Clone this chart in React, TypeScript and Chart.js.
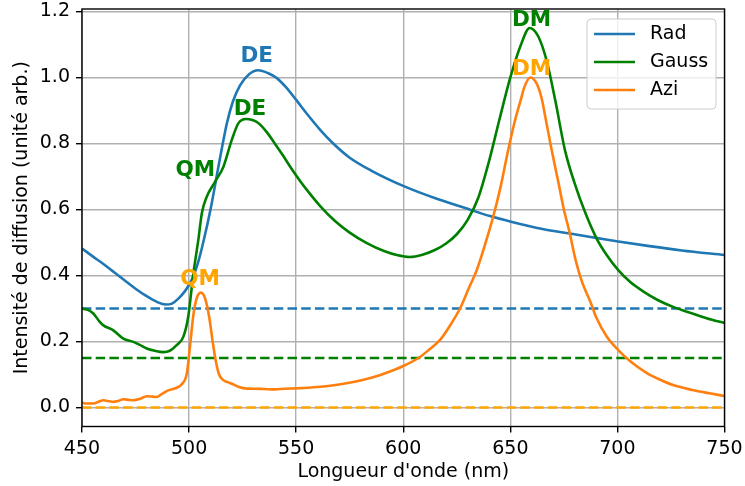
import React, { useEffect, useRef } from "react";
import { Chart, registerables } from "chart.js";

Chart.register(...registerables);

const FONT = '"DejaVu Sans", sans-serif';

// Wavelength (nm) / intensity samples
const radWl = [450,455,460,465,470,475,480,485,489,492,495,498,500,502,504,506.6,510,514,517.6,520.5,523.8,528,532.3,537,541,545,550,555,561,567.3,575,585,600.5,615,631,640.5,650.3,665,677.8,690,700.4,715,730,750];
const radVal = [0.482,0.458,0.435,0.41,0.385,0.36,0.338,0.32,0.312,0.315,0.33,0.352,0.372,0.398,0.435,0.50,0.60,0.74,0.86,0.928,0.976,1.01,1.022,1.013,0.998,0.972,0.932,0.89,0.843,0.80,0.757,0.718,0.67,0.634,0.6,0.58,0.563,0.541,0.527,0.514,0.503,0.489,0.476,0.462];

const gaussWl = [450,453,455.3,458,460,464.6,469.3,474,477,480.2,484,488,491,494.2,497.3,499.6,502,504.3,506,508.2,512.1,516,519.9,523,526.6,532.3,536.2,540,544,548,552,556,561,568,575,583,591,597,603,609,615,620,625,630,635,640,645,650,655,659,663,667,671,675.5,680,685,690.3,695,700.4,706,712,719,726,735,742,750];
const gaussVal = [0.30,0.295,0.285,0.262,0.249,0.234,0.209,0.199,0.19,0.179,0.172,0.168,0.172,0.189,0.214,0.275,0.406,0.507,0.59,0.638,0.684,0.729,0.81,0.861,0.874,0.862,0.835,0.80,0.762,0.722,0.685,0.651,0.612,0.566,0.53,0.498,0.474,0.462,0.456,0.463,0.478,0.497,0.525,0.568,0.635,0.745,0.875,1.0,1.10,1.15,1.125,1.05,0.93,0.78,0.68,0.59,0.512,0.462,0.416,0.38,0.352,0.325,0.305,0.285,0.27,0.256];

const aziWl = [450,452,455.3,458,460,462,464.6,467,469.3,472,474,477,480.2,483,484.9,487,490.3,494.2,496.5,499,500.5,502,503.5,505.5,507.5,509.5,511,512.5,514,516,518,520,523,526,530,535,540,545,550,560,570,580,589,595,600.8,607.8,612,617.1,622,626.5,630.5,634.3,638,642,645.5,649,652,655,656.5,659.3,662,664.5,666.5,669.3,672.5,675,677.8,680,683,688,690,695,700.4,706,713.6,720,726,735,743,750];
const aziVal = [0.015,0.012,0.012,0.018,0.022,0.02,0.017,0.02,0.025,0.023,0.022,0.026,0.034,0.033,0.032,0.04,0.052,0.06,0.07,0.105,0.19,0.28,0.33,0.348,0.33,0.27,0.2,0.14,0.1,0.083,0.077,0.072,0.063,0.058,0.057,0.056,0.055,0.057,0.058,0.062,0.07,0.082,0.098,0.112,0.128,0.153,0.175,0.204,0.25,0.30,0.36,0.416,0.49,0.578,0.67,0.78,0.865,0.935,0.97,1.0,0.985,0.94,0.875,0.78,0.68,0.6,0.527,0.46,0.39,0.31,0.275,0.215,0.174,0.14,0.105,0.084,0.068,0.053,0.043,0.035];

const seriesNames = ["Rad", "Gauss", "Azi"];
const seriesColors = ["#1f77b4", "#008000", "#ff7f0e"];
const thresholdValues = [0.3, 0.15, 0.0];
const thresholdColors = ["#1f77b4", "#008000", "#ffa500"];

const xTicks = [450, 500, 550, 600, 650, 700, 750];
const yTicks = [0.0, 0.2, 0.4, 0.6, 0.8, 1.0, 1.2];
const xRange = [450, 750];
const yRange = [-0.0575, 1.2075];

const peakLabels = ["QM", "DE", "DE", "QM", "DM", "DM"];
const peakLabelWl = [502.9, 531.6, 528.4, 505.1, 659.9, 659.9];
const peakLabelVal = [0.724, 1.071, 0.911, 0.394, 1.179, 1.032];
const peakLabelColors = ["#008000", "#1f77b4", "#008000", "#ffa500", "#008000", "#ffa500"];

const xTitle = "Longueur d'onde (nm)";
const yTitle = "Intensité de diffusion (unité arb.)";

const TXT = 19;

function toPoints(xs: number[], ys: number[]) {
  return xs.map((x, i) => ({ x, y: ys[i] }));
}

const overlayPlugin = {
  id: "overlay",
  afterDatasetsDraw(chart: any) {
    const { ctx, chartArea, scales } = chart;
    const xs = scales.x;
    const ys = scales.y;
    ctx.save();
    ctx.strokeStyle = "#000";
    ctx.lineWidth = 1.4;
    ctx.strokeRect(chartArea.left, chartArea.top, chartArea.right - chartArea.left, chartArea.bottom - chartArea.top);

    const fs = 21.5;
    ctx.font = `bold ${fs}px ${FONT}`;
    ctx.textAlign = "center";
    ctx.textBaseline = "alphabetic";
    peakLabels.forEach((t, i) => {
      const px = xs.getPixelForValue(peakLabelWl[i]);
      const py = ys.getPixelForValue(peakLabelVal[i]);
      ctx.fillStyle = peakLabelColors[i];
      ctx.fillText(t, px, py + 0.3645 * fs);
    });

    const lx = chartArea.right - 137.5;
    const ly = chartArea.top + 10;
    const lw = 129;
    const lh = 90;
    const r = 4;
    ctx.beginPath();
    ctx.moveTo(lx + r, ly);
    ctx.lineTo(lx + lw - r, ly);
    ctx.quadraticCurveTo(lx + lw, ly, lx + lw, ly + r);
    ctx.lineTo(lx + lw, ly + lh - r);
    ctx.quadraticCurveTo(lx + lw, ly + lh, lx + lw - r, ly + lh);
    ctx.lineTo(lx + r, ly + lh);
    ctx.quadraticCurveTo(lx, ly + lh, lx, ly + lh - r);
    ctx.lineTo(lx, ly + r);
    ctx.quadraticCurveTo(lx, ly, lx + r, ly);
    ctx.closePath();
    ctx.fillStyle = "rgba(255,255,255,0.8)";
    ctx.fill();
    ctx.strokeStyle = "#cccccc";
    ctx.lineWidth = 1;
    ctx.stroke();

    ctx.font = `${TXT}px ${FONT}`;
    ctx.textAlign = "left";
    ctx.textBaseline = "middle";
    seriesNames.forEach((name, i) => {
      const yy = ly + 15 + i * 28;
      ctx.strokeStyle = seriesColors[i];
      ctx.lineWidth = 2.6;
      ctx.beginPath();
      ctx.moveTo(lx + 7, yy);
      ctx.lineTo(lx + 48, yy);
      ctx.stroke();
      ctx.fillStyle = "#000";
      ctx.fillText(name, lx + 63, yy);
    });
    ctx.restore();
  },
};

export default function App() {
  const canvasRef = useRef<HTMLCanvasElement | null>(null);

  useEffect(() => {
    document.body.style.margin = "0";
    const canvas = canvasRef.current;
    if (!canvas) return;

    const mainSeries = [
      toPoints(radWl, radVal),
      toPoints(gaussWl, gaussVal),
      toPoints(aziWl, aziVal),
    ];

    const datasets: any[] = [];
    seriesNames.forEach((name, i) => {
      datasets.push({
        label: name,
        data: mainSeries[i],
        borderColor: seriesColors[i],
        backgroundColor: seriesColors[i],
        borderWidth: 2.6,
        pointRadius: 0,
        cubicInterpolationMode: "monotone",
        fill: false,
        clip: 0,
        order: 2 - i,
      });
    });
    thresholdValues.forEach((v, i) => {
      datasets.push({
        label: seriesNames[i] + " seuil",
        data: [
          { x: xRange[0], y: v },
          { x: xRange[1], y: v },
        ],
        borderColor: thresholdColors[i],
        borderWidth: 2.6,
        borderDash: [9.5, 4.2],
        pointRadius: 0,
        fill: false,
        clip: 0,
        order: 5 - i,
      });
    });

    const chart = new Chart(canvas, {
      type: "line",
      data: { datasets },
      options: {
        animation: false,
        responsive: false,
        devicePixelRatio: 1,
        layout: { padding: { top: 9, right: 20.5, left: 0, bottom: 0 } },
        plugins: {
          legend: { display: false },
          tooltip: { enabled: false },
        },
        scales: {
          x: {
            type: "linear",
            min: xRange[0],
            max: xRange[1],
            afterBuildTicks: (s: any) => {
              s.ticks = xTicks.map((v) => ({ value: v }));
            },
            afterFit: (s: any) => {
              s.height = 59.5;
              s.paddingLeft = 0;
              s.paddingRight = 0;
            },
            border: { display: false },
            grid: {
              color: "#b0b0b0",
              lineWidth: 1.4,
              tickColor: "#000",
              tickLength: 6,
              tickWidth: 1.4,
            },
            ticks: {
              color: "#000",
              padding: 5,
              maxRotation: 0,
              font: { family: FONT, size: TXT },
              callback: (v: any) => String(v),
            },
            title: {
              display: true,
              text: xTitle,
              color: "#000",
              font: { family: FONT, size: TXT, lineHeight: 1.2 },
              padding: { top: 0, bottom: 3 },
            },
          },
          y: {
            type: "linear",
            min: yRange[0],
            max: yRange[1],
            afterBuildTicks: (s: any) => {
              s.ticks = yTicks.map((v) => ({ value: v }));
            },
            afterFit: (s: any) => {
              s.width = 82;
              s.paddingTop = 0;
              s.paddingBottom = 0;
            },
            border: { display: false },
            grid: {
              color: "#b0b0b0",
              lineWidth: 1.4,
              tickColor: "#000",
              tickLength: 6,
              tickWidth: 1.4,
            },
            ticks: {
              color: "#000",
              padding: 6,
              font: { family: FONT, size: TXT },
              callback: (v: any) => Number(v).toFixed(1),
            },
            title: {
              display: true,
              text: yTitle,
              color: "#000",
              font: { family: FONT, size: TXT, lineHeight: 1.2 },
              padding: { top: 11, bottom: 0 },
            },
          },
        },
      },
      plugins: [overlayPlugin],
    } as any);

    return () => {
      chart.destroy();
    };
  }, []);

  return (
    <div style={{ position: "absolute", left: 0, top: 0, width: 745, height: 486 }}>
      <canvas ref={canvasRef} width={745} height={486} style={{ display: "block" }} />
    </div>
  );
}
